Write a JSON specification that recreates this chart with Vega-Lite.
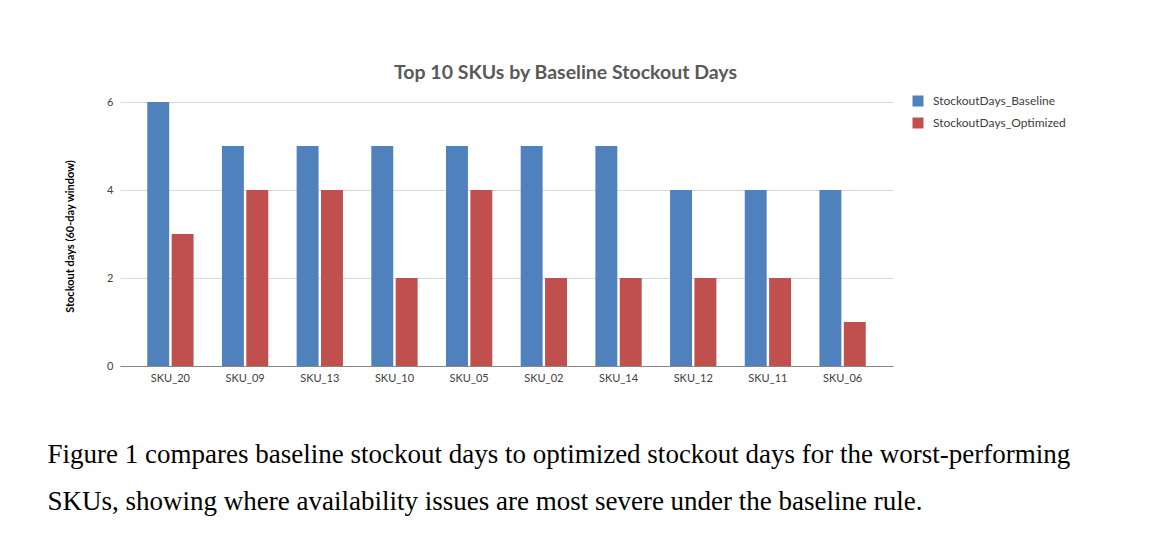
{
  "$schema": "https://vega.github.io/schema/vega-lite/v6.json",
  "autosize": {"type": "none"},
  "padding": {"left": 120, "top": 102, "right": 265, "bottom": 168},
  "width": 773,
  "height": 264,
  "background": "white",
  "title": {
    "text": "Top 10 SKUs by Baseline Stockout Days",
    "anchor": "middle",
    "dx": 59,
    "offset": 12,
    "font": "Lato",
    "fontSize": 19.5,
    "fontWeight": "bold",
    "color": "#595959"
  },
  "data": {
    "values": [
      {"sku": "SKU_20", "series": "StockoutDays_Baseline", "value": 6},
      {"sku": "SKU_20", "series": "StockoutDays_Optimized", "value": 3},
      {"sku": "SKU_09", "series": "StockoutDays_Baseline", "value": 5},
      {"sku": "SKU_09", "series": "StockoutDays_Optimized", "value": 4},
      {"sku": "SKU_13", "series": "StockoutDays_Baseline", "value": 5},
      {"sku": "SKU_13", "series": "StockoutDays_Optimized", "value": 4},
      {"sku": "SKU_10", "series": "StockoutDays_Baseline", "value": 5},
      {"sku": "SKU_10", "series": "StockoutDays_Optimized", "value": 2},
      {"sku": "SKU_05", "series": "StockoutDays_Baseline", "value": 5},
      {"sku": "SKU_05", "series": "StockoutDays_Optimized", "value": 4},
      {"sku": "SKU_02", "series": "StockoutDays_Baseline", "value": 5},
      {"sku": "SKU_02", "series": "StockoutDays_Optimized", "value": 2},
      {"sku": "SKU_14", "series": "StockoutDays_Baseline", "value": 5},
      {"sku": "SKU_14", "series": "StockoutDays_Optimized", "value": 2},
      {"sku": "SKU_12", "series": "StockoutDays_Baseline", "value": 4},
      {"sku": "SKU_12", "series": "StockoutDays_Optimized", "value": 2},
      {"sku": "SKU_11", "series": "StockoutDays_Baseline", "value": 4},
      {"sku": "SKU_11", "series": "StockoutDays_Optimized", "value": 2},
      {"sku": "SKU_06", "series": "StockoutDays_Baseline", "value": 4},
      {"sku": "SKU_06", "series": "StockoutDays_Optimized", "value": 1}
    ]
  },
  "mark": {"type": "bar"},
  "encoding": {
    "x": {
      "field": "sku",
      "type": "nominal",
      "sort": null,
      "scale": {"paddingInner": 0.38, "paddingOuter": 0.365},
      "axis": {
        "labelAngle": 0,
        "labelFont": "Lato",
        "labelFontSize": 11,
        "labelColor": "#404040",
        "labelPadding": 6,
        "ticks": false,
        "domainColor": "#868686",
        "domainWidth": 1,
        "grid": false,
        "title": [
          "Figure 1 compares baseline stockout days to optimized stockout days for the worst-performing",
          "SKUs, showing where availability issues are most severe under the baseline rule."
        ],
        "titleFont": "Liberation Serif",
        "titleFontSize": 27,
        "titleFontWeight": "normal",
        "titleColor": "#000000",
        "titleAlign": "left",
        "titleAnchor": "start",
        "titleBaseline": "alphabetic",
        "titleLineHeight": 47,
        "titleX": -73,
        "titleY": 96
      }
    },
    "xOffset": {
      "field": "series",
      "type": "nominal",
      "scale": {"paddingInner": 0.1, "paddingOuter": 0}
    },
    "y": {
      "field": "value",
      "type": "quantitative",
      "scale": {"domain": [0, 6], "nice": false},
      "axis": {
        "values": [0, 2, 4, 6],
        "domain": false,
        "ticks": false,
        "grid": true,
        "gridColor": "#d9d9d9",
        "gridWidth": 1,
        "labelFont": "Lato",
        "labelFontSize": 11,
        "labelColor": "#404040",
        "labelPadding": 7,
        "title": "Stockout days (60-day window)",
        "titleFont": "Lato",
        "titleFontSize": 11,
        "titleFontWeight": "bold",
        "titleColor": "#000000",
        "titleAngle": -90,
        "titleAlign": "center",
        "titleBaseline": "middle",
        "titleX": -50,
        "titleY": 134
      }
    },
    "color": {
      "field": "series",
      "type": "nominal",
      "scale": {
        "domain": ["StockoutDays_Baseline", "StockoutDays_Optimized"],
        "range": ["#4F81BD", "#C0504D"]
      },
      "legend": {
        "title": null,
        "orient": "none",
        "legendX": 792,
        "legendY": -7,
        "symbolType": "square",
        "symbolSize": 121,
        "symbolStrokeWidth": 0,
        "labelFont": "Lato",
        "labelFontSize": 12,
        "labelColor": "#404040",
        "labelOffset": 9,
        "rowPadding": 10
      }
    }
  },
  "config": {
    "view": {"stroke": null}
  }
}
